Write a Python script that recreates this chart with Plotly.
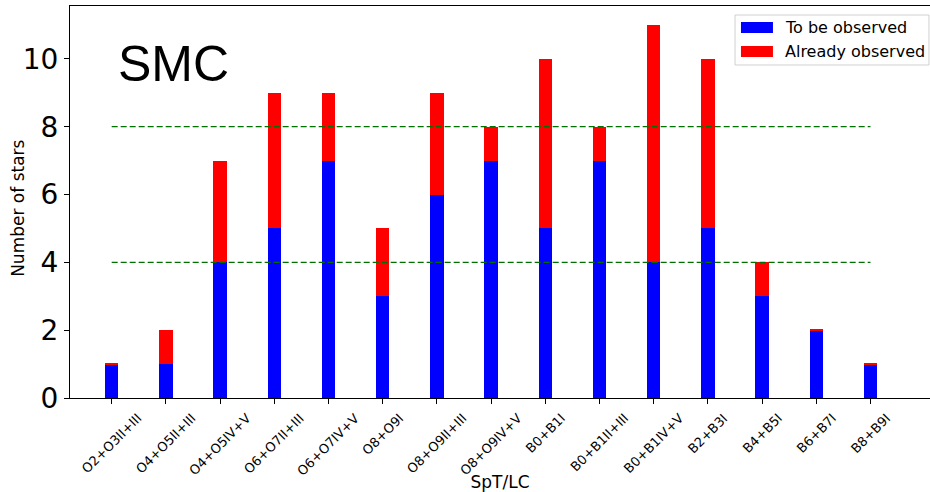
import plotly.graph_objects as go

categories = ["O2+O3II+III", "O4+O5II+III", "O4+O5IV+V", "O6+O7II+III", "O6+O7IV+V",
              "O8+O9I", "O8+O9II+III", "O8+O9IV+V", "B0+B1I", "B0+B1II+III",
              "B0+B1IV+V", "B2+B3I", "B4+B5I", "B6+B7I", "B8+B9I"]
to_be_observed = [1, 1, 4, 5, 7, 3, 6, 7, 5, 7, 4, 5, 3, 2, 1]
already_observed = [0.04, 1, 3, 4, 2, 2, 3, 1, 5, 1, 7, 5, 1, 0.04, 0.04]
reference_levels = [4, 8]
y_ticks = [0, 2, 4, 6, 8, 10]
series_names = ["To be observed", "Already observed"]
series_colors = ["#0000ff", "#ff0000"]

FONT = "DejaVu Sans"
idx = list(range(len(categories)))

fig = go.Figure()
for vals, name, col in zip([to_be_observed, already_observed], series_names, series_colors):
    fig.add_trace(go.Bar(x=idx, y=vals, name=name, width=0.25,
                         marker=dict(color=col, line=dict(width=0)), showlegend=False))

for lvl in reference_levels:
    fig.add_shape(type="line", xref="x", yref="y", x0=idx[0], x1=idx[-1], y0=lvl, y1=lvl,
                  line=dict(color="#007000", width=1.3, dash="6px,3px"), layer="above")

# rotated category labels centred under the ticks
for i, c in zip(idx, categories):
    fig.add_annotation(x=i, xref="x", y=0, yref="paper", yshift=-10, text=c, textangle=-45,
                       xanchor="center", yanchor="top", showarrow=False,
                       font=dict(family=FONT, size=13, color="black"))

# custom legend
fig.add_shape(type="rect", xref="paper", yref="paper", x0=0.7733, x1=0.9988, y0=0.8495, y1=0.977,
              line=dict(color="#d0d0d0", width=1), fillcolor="rgba(255,255,255,0.8)", layer="above")
legend_rows = [(0.9311, 0.9592, 0.9464), (0.8699, 0.898, 0.8852)]
for (y0, y1, yt), name, col in zip(legend_rows, series_names, series_colors):
    fig.add_shape(type="rect", xref="paper", yref="paper", x0=0.7802, x1=0.8174, y0=y0, y1=y1,
                  line=dict(width=0), fillcolor=col, layer="above")
    fig.add_annotation(x=0.8314, xref="paper", y=yt, yref="paper", text=name, showarrow=False,
                       xanchor="left", yanchor="middle", xshift=-2,
                       font=dict(family=FONT, size=16, color="black"))

fig.add_annotation(x=0.1209, xref="paper", y=0.852, yref="paper", text="SMC", showarrow=False,
                   xanchor="center", yanchor="middle",
                   font=dict(family="Liberation Sans", size=50, color="black"))

# y axis title
fig.add_annotation(x=-0.0605, xref="paper", y=0.485, yref="paper", text="Number of stars",
                   textangle=-90, showarrow=False, xanchor="center", yanchor="middle",
                   font=dict(family=FONT, size=17, color="black"))

fig.update_layout(
    width=930, height=492, barmode="stack", bargap=0,
    margin=dict(l=70, r=0, t=6, b=94, autoexpand=False),
    plot_bgcolor="white", paper_bgcolor="white",
    font=dict(family=FONT, color="black"),
)
fig.update_xaxes(range=[-0.769, 15.098], tickvals=idx, showticklabels=False,
                 ticks="outside", ticklen=5, tickcolor="black", tickwidth=1,
                 showline=True, linecolor="black", linewidth=1, mirror=True,
                 showgrid=False, zeroline=False,
                 title=dict(text="SpT/LC", font=dict(family=FONT, size=17), standoff=73))
fig.update_yaxes(range=[0, 11.56], tickvals=y_ticks, ticks="outside", ticklen=5,
                 tickcolor="black", tickwidth=1, tickfont=dict(family=FONT, size=28),
                 showline=True, linecolor="black", linewidth=1,
                 showgrid=False, zeroline=False)

fig.write_html("out.html")
